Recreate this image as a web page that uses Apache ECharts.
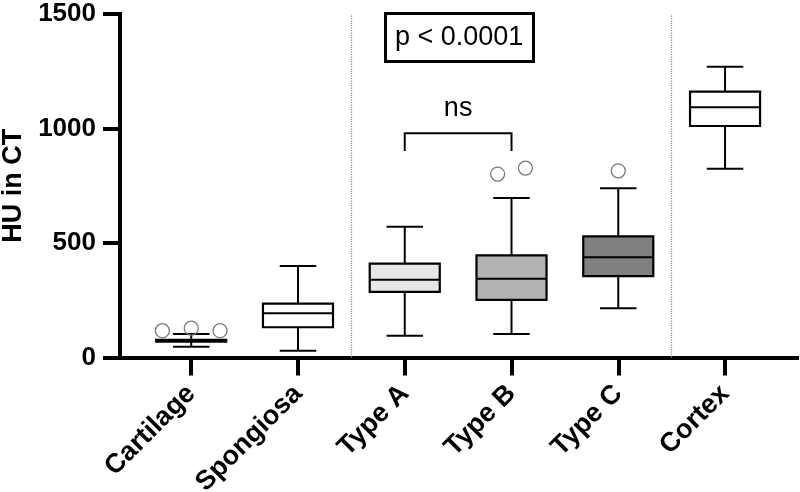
<!DOCTYPE html>
<html>
<head>
<meta charset="utf-8">
<script src="https://cdn.jsdelivr.net/npm/echarts@6/dist/echarts.min.js"></script>
<style>
html,body{margin:0;padding:0;background:#fff;}
#chart{width:800px;height:492px;}
</style>
</head>
<body>
<div id="chart"></div>
<script>
// ---- data ----
const categories = ['Cartilage', 'Spongiosa', 'Type A', 'Type B', 'Type C', 'Cortex'];
const whiskerLow  = [47, 30, 95, 103, 215, 824];
const quartile1   = [69, 132, 287, 252, 355, 1011];
const medianVals  = [73, 193, 340, 344, 438, 1093];
const quartile3   = [77, 235, 410, 446, 529, 1161];
const whiskerHigh = [103, 400, 571, 697, 739, 1270];

const outlierGroup  = [0, 0, 0, 3, 3, 4];
const outlierJitter = [-0.27, 0, 0.27, -0.13, 0.13, 0];
const outlierValue  = [117, 128, 117, 801, 827, 815];

const yTicks = [0, 500, 1000, 1500];
const pText = 'p < 0.0001';
const bracketFrom = 2, bracketTo = 3, bracketTop = 979, bracketDrop = 902;
const bracketLabel = 'ns', bracketLabelValue = 1085;

// ---- styles ----
const boxFills = ['#ffffff', '#ffffff', '#e6e6e6', '#b3b3b3', '#808080', '#ffffff'];
const FONT = 'Liberation Sans, Arial, sans-serif';
const boxWidthRatio = 0.656;
const capWidthRatio = 0.342;

const boxData = categories.map((c, i) => [i, whiskerLow[i], quartile1[i], medianVals[i], quartile3[i], whiskerHigh[i]]);
const outlierData = outlierGroup.map((g, i) => [g + outlierJitter[i], outlierValue[i]]);
const catIdx = categories.map((c, i) => i);

function renderBox(params, api) {
  const x = api.value(0);
  const lo = api.coord([x, api.value(1)]);
  const b1 = api.coord([x, api.value(2)]);
  const md = api.coord([x, api.value(3)]);
  const b3 = api.coord([x, api.value(4)]);
  const hi = api.coord([x, api.value(5)]);
  const bw = api.size([boxWidthRatio, 0])[0];
  const cw = api.size([capWidthRatio, 0])[0];
  const cx = md[0];
  const st = { stroke: '#000', lineWidth: 2 };
  return {
    type: 'group',
    children: [
      { type: 'line', shape: { x1: cx, y1: hi[1], x2: cx, y2: b3[1] }, style: st },
      { type: 'line', shape: { x1: cx, y1: b1[1], x2: cx, y2: lo[1] }, style: st },
      { type: 'line', shape: { x1: cx - cw / 2, y1: hi[1], x2: cx + cw / 2, y2: hi[1] }, style: st },
      { type: 'line', shape: { x1: cx - cw / 2, y1: lo[1], x2: cx + cw / 2, y2: lo[1] }, style: st },
      { type: 'rect', shape: { x: cx - bw / 2, y: b3[1], width: bw, height: b1[1] - b3[1] },
        style: { fill: boxFills[params.dataIndex], stroke: '#000', lineWidth: 2.2 } },
      { type: 'line', shape: { x1: cx - bw / 2, y1: md[1], x2: cx + bw / 2, y2: md[1] }, style: st }
    ]
  };
}

function renderBracket(params, api) {
  const f = api.value(0), t = api.value(1), top = api.value(2), drop = api.value(3), ly = api.value(4);
  const a = api.coord([f, top]), b = api.coord([t, top]);
  const a2 = api.coord([f, drop]), b2 = api.coord([t, drop]);
  const lp = api.coord([(f + t) / 2, ly]);
  return {
    type: 'group',
    children: [
      { type: 'polyline', shape: { points: [a2, a, b, b2] }, style: { stroke: '#000', lineWidth: 2, fill: null } },
      { type: 'text', x: lp[0], y: lp[1], style: { text: bracketLabel, fontSize: 27, fontFamily: FONT, fill: '#000', align: 'center', verticalAlign: 'middle' } }
    ]
  };
}

const chart = echarts.init(document.getElementById('chart'));
chart.setOption({
  animation: false,
  backgroundColor: '#fff',
  title: {
    text: pText, left: 385, top: 13, padding: [9, 10],
    borderWidth: 3, borderColor: '#000',
    textStyle: { fontSize: 27, fontWeight: 'normal', color: '#000', fontFamily: FONT, lineHeight: 31 }
  },
  grid: { left: 120, right: 3, top: 14, bottom: 134.5, containLabel: false, outerBoundsMode: 'none' },
  xAxis: {
    type: 'value', min: -0.667, max: 5.674,
    axisLine: { show: true, onZero: false, lineStyle: { color: '#000', width: 4, cap: 'square' } },
    axisTick: { show: true, customValues: catIdx, length: 18, lineStyle: { color: '#000', width: 4 } },
    axisLabel: {
      customValues: catIdx, formatter: v => categories[Math.round(v)],
      rotate: 45, fontSize: 27, fontWeight: 'bold', color: '#000', fontFamily: FONT, margin: 32
    },
    splitLine: { show: false }
  },
  yAxis: {
    type: 'value', min: 0, max: 1500, interval: 500,
    name: 'HU in CT', nameLocation: 'middle', nameGap: 80,
    nameTextStyle: { fontSize: 27, fontWeight: 'bold', color: '#000', fontFamily: FONT },
    axisLine: { show: true, onZero: false, lineStyle: { color: '#000', width: 4, cap: 'square' } },
    axisTick: { show: true, length: 17, lineStyle: { color: '#000', width: 4 } },
    axisLabel: { fontSize: 26, fontWeight: 'bold', color: '#000', fontFamily: FONT, margin: 24,
      formatter: v => String(v) },
    splitLine: { show: false }
  },
  series: [
    {
      type: 'custom', name: 'boxes', renderItem: renderBox,
      encode: { x: 0, y: [1, 2, 3, 4, 5] },
      data: boxData, z: 2,
      markLine: {
        silent: true, symbol: 'none', label: { show: false },
        lineStyle: { type: 'dotted', color: '#8a8a8a', width: 1.2 },
        data: [{ xAxis: 1.5 }, { xAxis: 4.5 }]
      }
    },
    {
      type: 'scatter', name: 'outliers', data: outlierData, symbol: 'circle', symbolSize: 14,
      itemStyle: { color: 'rgba(255,255,255,0)', borderColor: '#7a7a7a', borderWidth: 1.3, opacity: 1 },
      z: 3
    },
    {
      type: 'custom', name: 'bracket', renderItem: renderBracket,
      encode: { x: [0, 1], y: [2, 3, 4] },
      data: [[bracketFrom, bracketTo, bracketTop, bracketDrop, bracketLabelValue]], z: 3
    }
  ]
});
</script>
</body>
</html>
